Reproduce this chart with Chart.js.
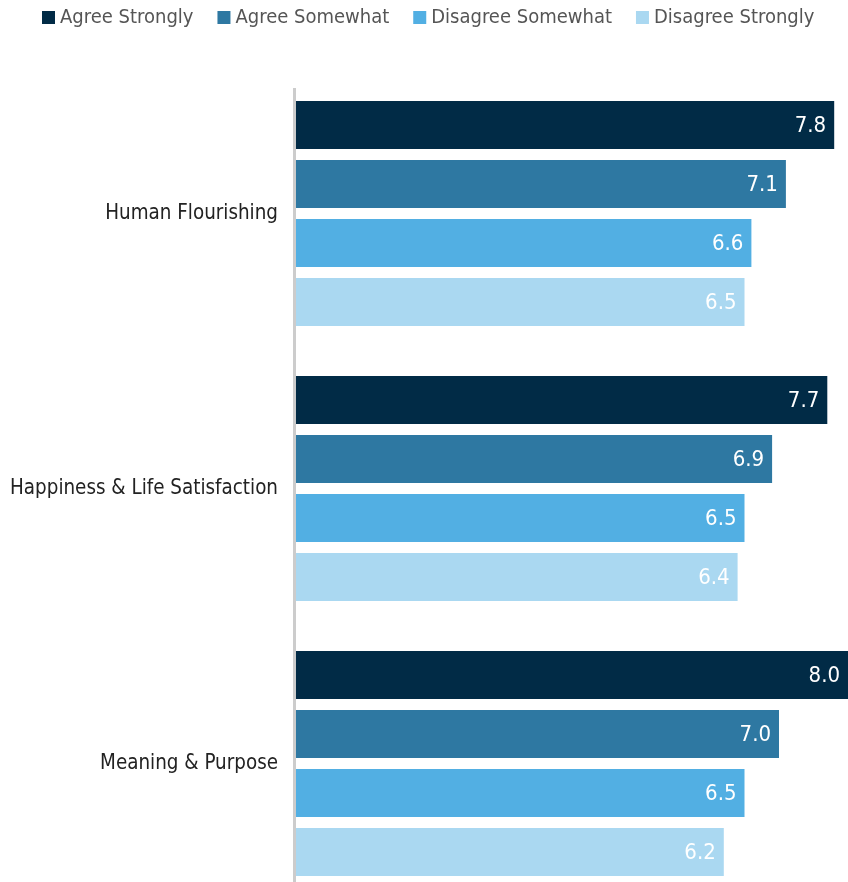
<!DOCTYPE html>
<html>
<head>
<meta charset="utf-8">
<script src="https://cdn.jsdelivr.net/npm/chart.js@4"></script>
<style>
  html, body { margin: 0; padding: 0; background: #fff; overflow: hidden; }
  canvas { display: block; }
</style>
</head>
<body>
<canvas id="chart" width="848" height="901"></canvas>
<script>
const categories = ["Human Flourishing", "Happiness & Life Satisfaction", "Meaning & Purpose"];
const seriesNames = ["Agree Strongly", "Agree Somewhat", "Disagree Somewhat", "Disagree Strongly"];
const agreeStrongly = [7.8, 7.7, 8.0];
const agreeSomewhat = [7.1, 6.9, 7.0];
const disagreeSomewhat = [6.6, 6.5, 6.5];
const disagreeStrongly = [6.5, 6.4, 6.2];
const colors = ["#012B46", "#2E78A2", "#52AFE3", "#AAD8F1"];

const FONT = "'Liberation Sans Narrow', 'DejaVu Sans Condensed', 'Arial Narrow', sans-serif";

// white value labels at the end of each bar
const valueLabels = {
  id: "valueLabels",
  afterDatasetsDraw(chart) {
    const ctx = chart.ctx;
    ctx.save();
    ctx.fillStyle = "#ffffff";
    ctx.font = "22px " + FONT;
    ctx.textAlign = "right";
    ctx.textBaseline = "middle";
    chart.data.datasets.forEach((ds, i) => {
      chart.getDatasetMeta(i).data.forEach((bar, j) => {
        ctx.fillText(ds.data[j].toFixed(1), bar.x - 8, bar.y + 1);
      });
    });
    ctx.restore();
  }
};

// compact legend row + axis line starting a bit below the plot top
const legendAndAxis = {
  id: "legendAndAxis",
  afterDraw(chart) {
    const ctx = chart.ctx;
    ctx.save();
    ctx.font = "20px " + FONT;
    ctx.textBaseline = "middle";
    let x = 42;
    chart.data.datasets.forEach(ds => {
      ctx.fillStyle = ds.backgroundColor;
      ctx.fillRect(x, 11, 13, 13);
      x += 13 + 5;
      ctx.fillStyle = "#555555";
      ctx.textAlign = "left";
      ctx.fillText(ds.label, x, 18);
      x += ctx.measureText(ds.label).width + 24;
    });
    const a = chart.chartArea;
    ctx.strokeStyle = "#cccccc";
    ctx.lineWidth = 3;
    ctx.beginPath();
    ctx.moveTo(a.left - 1.5, a.top + 12);
    ctx.lineTo(a.left - 1.5, chart.height);
    ctx.stroke();
    ctx.restore();
  }
};

const allSeries = [agreeStrongly, agreeSomewhat, disagreeSomewhat, disagreeStrongly];

new Chart(document.getElementById("chart"), {
  type: "bar",
  data: {
    labels: categories,
    datasets: allSeries.map((d, i) => ({
      label: seriesNames[i],
      data: d,
      backgroundColor: colors[i],
      borderWidth: 0,
      categoryPercentage: 0.858,
      barPercentage: 0.814
    }))
  },
  options: {
    indexAxis: "y",
    responsive: false,
    animation: false,
    layout: { padding: { left: 0, right: 0, top: 76, bottom: 0 } },
    plugins: {
      tooltip: { enabled: false },
      legend: { display: false }
    },
    scales: {
      x: { display: false, min: 0, max: 8 },
      y: {
        afterFit(scale) {
          scale.width = 296;
          scale.paddingTop = 0;
          scale.paddingBottom = 0;
        },
        grid: { display: false, drawTicks: false },
        border: { display: false },
        ticks: { color: "#222222", padding: 18, font: { family: FONT, size: 20.4 } }
      }
    }
  },
  plugins: [valueLabels, legendAndAxis]
});
</script>
</body>
</html>
